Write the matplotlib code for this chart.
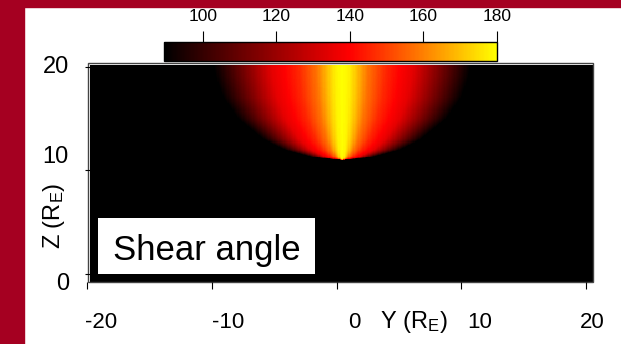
import numpy as np
import matplotlib
import matplotlib.pyplot as plt
from matplotlib.colors import LinearSegmentedColormap
from matplotlib.patches import Rectangle
matplotlib.use('Agg')

plt.rcParams['font.family'] = ['Liberation Sans', 'DejaVu Sans']
plt.rcParams['mathtext.fontset'] = 'custom'
plt.rcParams['mathtext.rm'] = 'Liberation Sans'
plt.rcParams['mathtext.it'] = 'Liberation Sans:italic'

# readings from the picture
apex_y = 0.4                     # centre line of the fan (R_E)
edge_z = [11.0, 11.3, 12.0, 13.0, 15.0, 17.0, 19.0, 20.2]
edge_hw = [0.0, 2.5, 4.6, 6.3, 8.3, 9.5, 10.1, 10.3]   # half width of fan
prof_u = [0.0, 0.05, 0.1, 0.2, 0.34, 0.45, 0.55, 0.78, 1.0]
prof_v = [180, 178, 172, 158, 146, 140, 135, 112, 90]  # shear angle (deg)

x_ticks = [-20, -10, 0, 10, 20]
x_labels = ['-20', '-10', '0', '10', '20']
y_ticks = [0, 10, 20]
y_labels = ['0', '10', '20']
cb_ticks = [100, 120, 140, 160, 180]
v_min, v_max = 89.5, 180

RED = '#A50021'
W, H = 621, 344


def px_box(left, top, right, bottom):
    ''' pixel box -> figure fraction '''
    return [left / W, 1 - bottom / H, (right - left) / W, (bottom - top) / H]


fig = plt.figure(figsize=(6.21, 3.44), dpi=100)
fig.add_artist(Rectangle((0, 0), 24 / W, 1, transform=fig.transFigure,
                         color=RED, zorder=0))
fig.add_artist(Rectangle((0, 1 - 6.5 / H), 1, 6.5 / H,
                         transform=fig.transFigure, color=RED, zorder=0))

ax = fig.add_axes(px_box(86, 65, 593, 282))
ax.set_xlim(-20.08, 20.56)
ax.set_ylim(-0.77, 20.15)

img_ext = [-19.76, 20.48, -0.77, 20.15]
yy = np.arange(img_ext[0], img_ext[1], 0.1)
zz = np.arange(img_ext[2], img_ext[3], 0.1)
Y, Z = np.meshgrid(yy, zz)
hw = np.interp(Z, edge_z, edge_hw, left=0.0)
u = np.full(Y.shape, 9.0)
np.divide(np.abs(Y - apex_y), hw, out=u, where=hw > 0)
field = np.interp(u, prof_u, prof_v, right=80)

cmap = LinearSegmentedColormap.from_list(
    'shear', [(0, 'black'), ((140 - v_min) / (v_max - v_min), 'red'),
              (1, 'yellow')])
cmap.set_under('black')
im = ax.imshow(field, extent=img_ext, origin='lower', aspect='auto',
               cmap=cmap, vmin=v_min, vmax=v_max, interpolation='nearest')
ax.add_patch(Rectangle((-19.92, -0.77), 40.5, 21.1, fill=False,
                       edgecolor='#444444', lw=1, clip_on=False))

for s in ax.spines.values():
    s.set_visible(False)
ax.spines['left'].set_position(('data', img_ext[0]))
ax.set_xticks(x_ticks)
ax.set_yticks(y_ticks)
ax.set_xticklabels([])
ax.set_yticklabels([])
ax.tick_params(axis='x', direction='out', length=5, width=0.8)
ax.tick_params(axis='y', direction='out', length=3.5, width=0.8)

x_dx = [-2, 0, 12, 6, -6]
for val, lab, dx in zip(x_ticks, x_labels, x_dx):
    ax.annotate(lab, xy=(val, 0), xycoords=('data', 'axes fraction'),
                xytext=(dx, -46), textcoords='offset pixels',
                ha='left', va='baseline', fontsize=16)
y_dy = [-10, 13, 0]
for val, lab, dy in zip(y_ticks, y_labels, y_dy):
    ax.annotate(lab, xy=(img_ext[0], val), xytext=(-21, dy),
                textcoords='offset pixels', ha='right', va='center',
                fontsize=17, annotation_clip=False)

fig.text(380 / W, 1 - 328 / H, r'Y (R$_\mathrm{E}$)', fontsize=17,
         ha='left', va='baseline')
fig.text(54 / W, 1 - 216 / H, r'Z (R$_\mathrm{E}$)', fontsize=17,
         rotation=90, ha='center', va='center')

ax.add_patch(Rectangle((-19.12, 0.0), 17.4, 5.4, facecolor='white',
                       edgecolor='none', zorder=3))
ax.text(-17.9, 1.35, 'Shear angle', fontsize=25, ha='left',
        va='baseline', zorder=4)

cax = fig.add_axes(px_box(164, 42, 497, 61))
cb = fig.colorbar(im, cax=cax, orientation='horizontal', ticks=cb_ticks)
cax.xaxis.set_ticks_position('top')
cax.tick_params(length=8, width=0.8, labelsize=12.5, pad=5)
cb.outline.set_linewidth(1)

fig.savefig('out.png', dpi=100)
